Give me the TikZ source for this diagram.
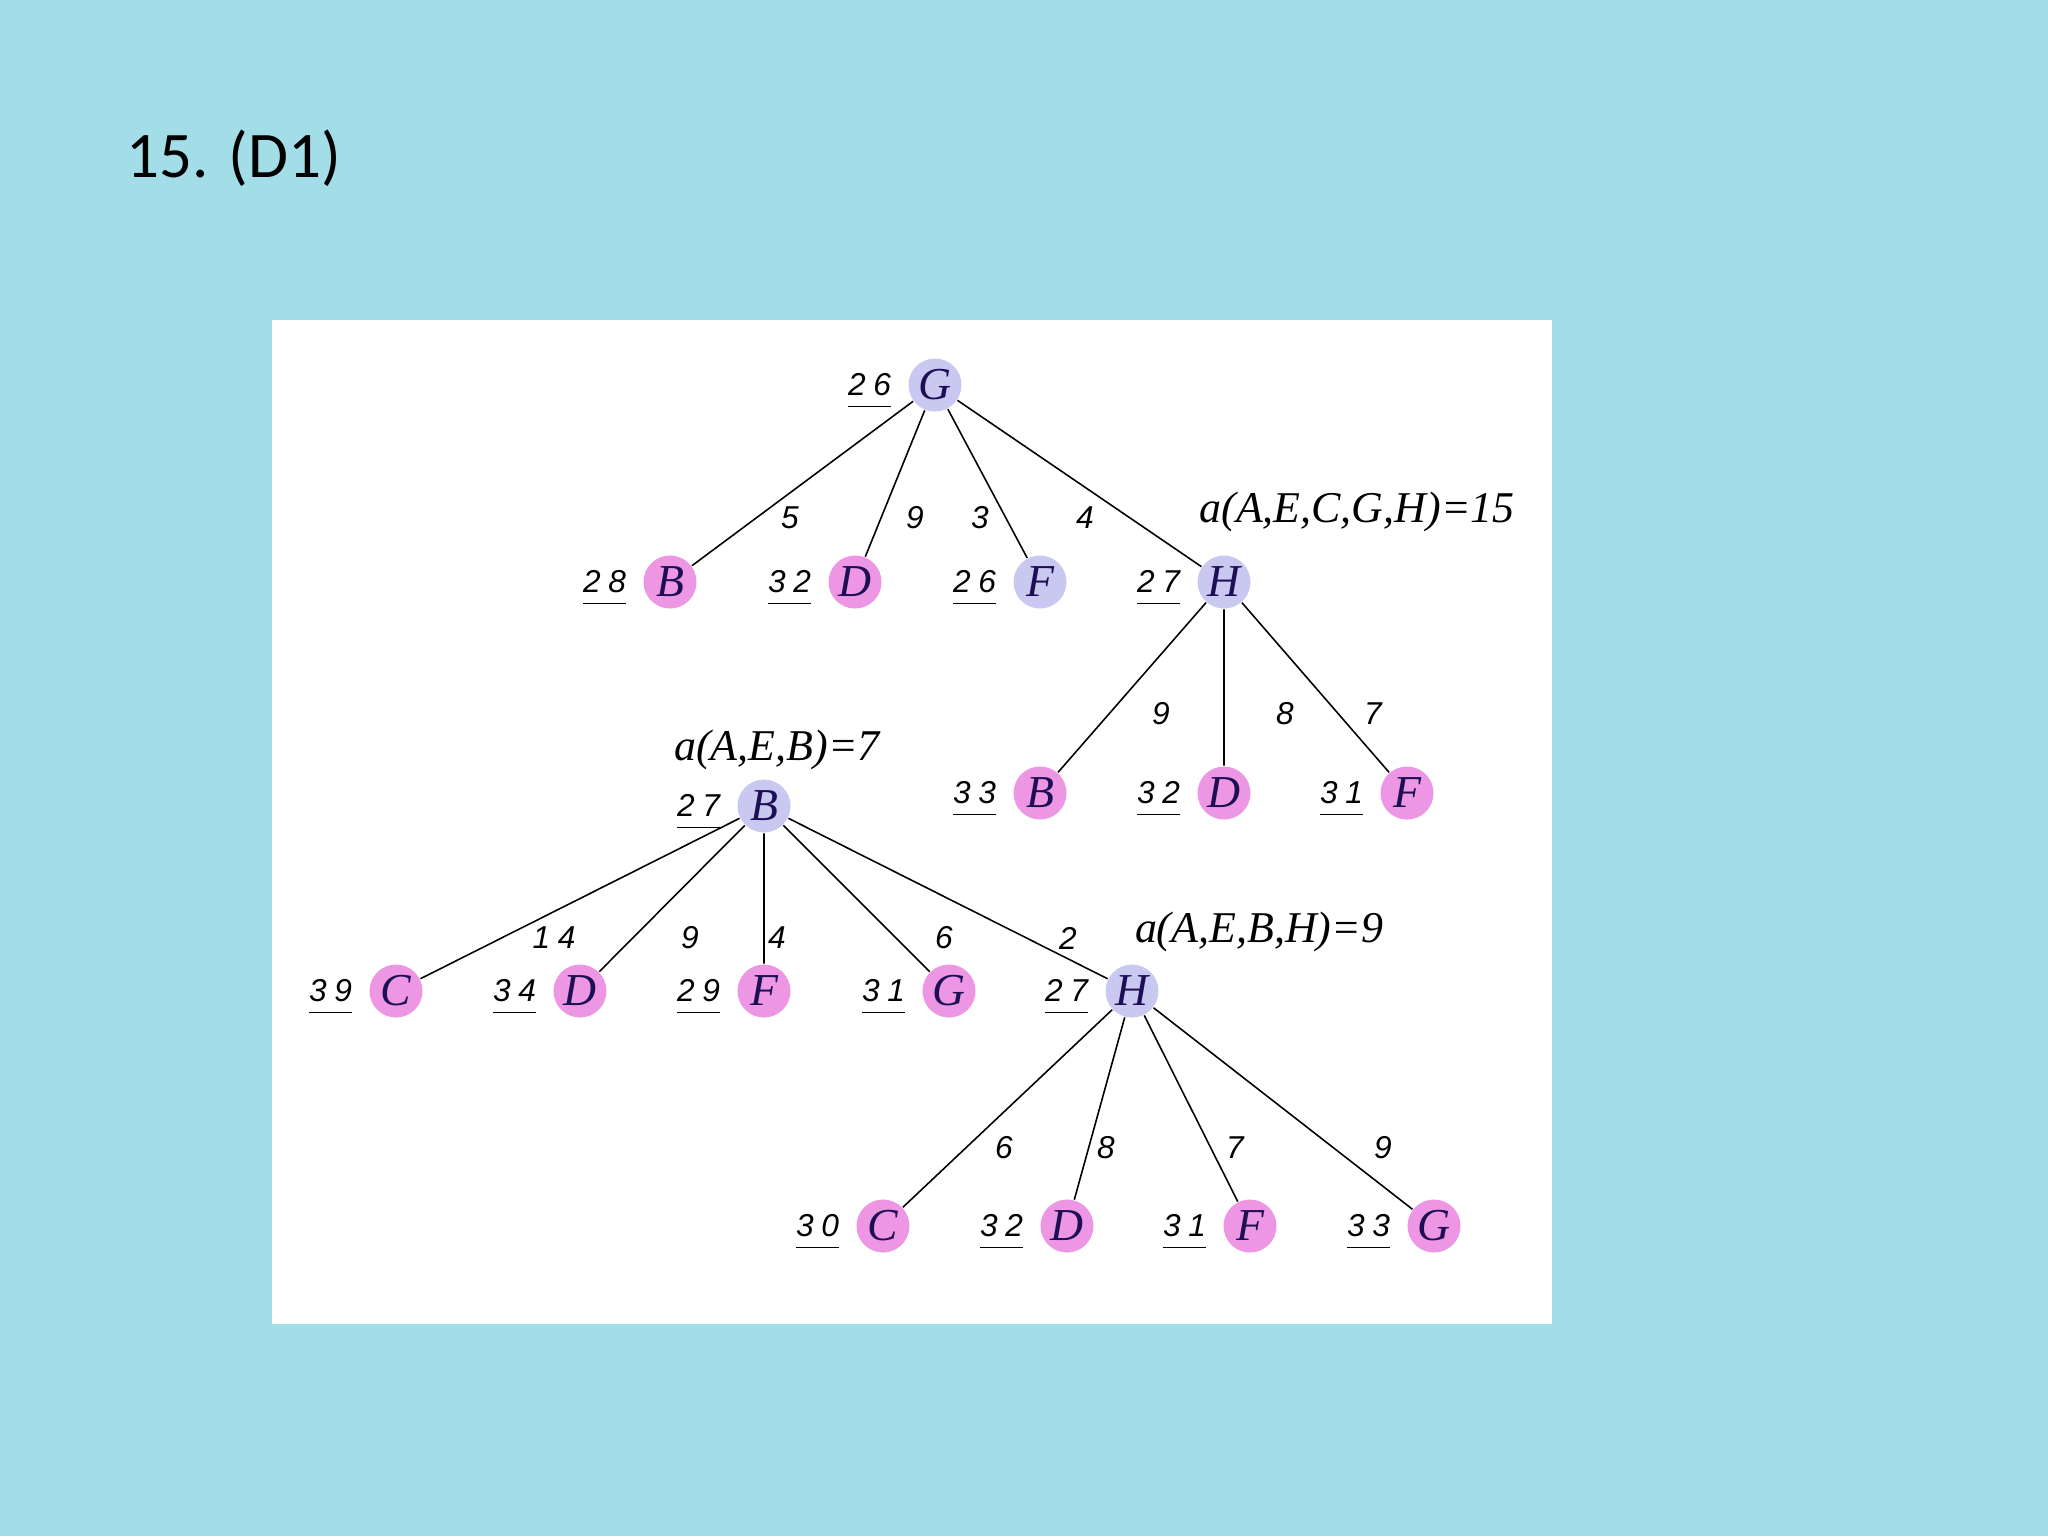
\documentclass[tikz,border=0pt]{standalone}
\usepackage{fontspec}
\setmainfont{Liberation Serif}
\newfontfamily\numfont[LetterSpace=24]{Liberation Sans}
\newfontfamily\titlefont{Carlito}
\usetikzlibrary{positioning}
\definecolor{drop}{RGB}{163,221,232}
\definecolor{lilac}{RGB}{200,200,240}
\definecolor{pinky}{RGB}{236,150,228}
\definecolor{ink}{RGB}{30,15,85}
\NewDocumentCommand{\cst}{m}{\underline{\raisebox{0pt}[\height][1.8pt]{#1}}}

\begin{document}
\begin{tikzpicture}[x=0.1mm, y=-0.1mm, line width=0.45pt,
                    expd/.style = {circle, fill=lilac, text=ink, minimum size=5.3mm, inner sep=0pt,
                                   font=\fontsize{13}{15}\selectfont\itshape},
                    leaf/.style = {expd, fill=pinky},
                    cost/.style = {inner sep=0pt, yshift=-0.6mm, font=\numfont\fontsize{9}{11}\selectfont\itshape},
                    wt/.style = {inner sep=0pt, font=\numfont\fontsize{9}{11}\selectfont\itshape},
                    note/.style = {inner sep=0pt, font=\fontsize{12.5}{15}\selectfont\itshape}]
    % background and panel
    \fill[drop] (0,0) rectangle (2048,1536);
    \fill[white] (272,320) rectangle (1552,1324);
    \node[font=\titlefont\fontsize{18.5}{22}\selectfont, anchor=base west, inner sep=0pt] (title) at (126,177) {15. (D1)};

    % first tree
    \node[expd] (g) at (935,385) {G};
    \node[leaf] (b1) at (670,582) {B};
    \node[leaf] (d1) at (855,582) {D};
    \node[expd] (f1) at (1040,582) {F};
    \node[expd] (h1) at (1224,582) {H};
    \node[leaf] (b2) at (1040,793) {B};
    \node[leaf] (d2) at (1224,793) {D};
    \node[leaf] (f2) at (1407,793) {F};

    % second tree
    \node[expd] (b) at (764,806) {B};
    \node[leaf] (c3) at (396,991) {C};
    \node[leaf] (d3) at (580,991) {D};
    \node[leaf] (f3) at (764,991) {F};
    \node[leaf] (g3) at (949,991) {G};
    \node[expd] (h3) at (1132,991) {H};
    \node[leaf] (c4) at (883,1226) {C};
    \node[leaf] (d4) at (1067,1226) {D};
    \node[leaf] (f4) at (1250,1226) {F};
    \node[leaf] (g4) at (1434,1226) {G};

    % costs
    \node[cost] (g-c) [left=1.6mm of g] {\cst{26}};
    \node[cost] (b1-c) [left=1.6mm of b1] {\cst{28}};
    \node[cost] (d1-c) [left=1.6mm of d1] {\cst{32}};
    \node[cost] (f1-c) [left=1.6mm of f1] {\cst{26}};
    \node[cost] (h1-c) [left=1.6mm of h1] {\cst{27}};
    \node[cost] (b2-c) [left=1.6mm of b2] {\cst{33}};
    \node[cost] (d2-c) [left=1.6mm of d2] {\cst{32}};
    \node[cost] (f2-c) [left=1.6mm of f2] {\cst{31}};
    \node[cost] (b-c) [left=1.6mm of b] {\cst{27}};
    \node[cost] (c3-c) [left=1.6mm of c3] {\cst{39}};
    \node[cost] (d3-c) [left=1.6mm of d3] {\cst{34}};
    \node[cost] (f3-c) [left=1.6mm of f3] {\cst{29}};
    \node[cost] (g3-c) [left=1.6mm of g3] {\cst{31}};
    \node[cost] (h3-c) [left=1.6mm of h3] {\cst{27}};
    \node[cost] (c4-c) [left=1.6mm of c4] {\cst{30}};
    \node[cost] (d4-c) [left=1.6mm of d4] {\cst{32}};
    \node[cost] (f4-c) [left=1.6mm of f4] {\cst{31}};
    \node[cost] (g4-c) [left=1.6mm of g4] {\cst{33}};

    % edges
    \draw (g) -- (b1) (g) -- (d1) (g) -- (f1) (g) -- (h1);
    \draw (h1) -- (b2) (h1) -- (d2) (h1) -- (f2);
    \draw (b) -- (c3) (b) -- (d3) (b) -- (f3) (b) -- (g3) (b) -- (h3);
    \draw (h3) -- (c4) (h3) -- (d4) (h3) -- (f4) (h3) -- (g4);

    % weights
    \node[wt] (gb1-w) at (790,518) {5};
    \node[wt] (gd1-w) at (915,518) {9};
    \node[wt] (gf1-w) at (980,518) {3};
    \node[wt] (gh1-w) at (1085,518) {4};
    \node[wt] (hb2-w) at (1161,714) {9};
    \node[wt] (hd2-w) at (1285,714) {8};
    \node[wt] (hf2-w) at (1373,714) {7};
    \node[wt] (bc3-w) at (554,938) {14};
    \node[wt] (bd3-w) at (690,938) {9};
    \node[wt] (bf3-w) at (777,938) {4};
    \node[wt] (bg3-w) at (944,938) {6};
    \node[wt] (bh3-w) at (1068,938) {2};
    \node[wt] (hc4-w) at (1004,1148) {6};
    \node[wt] (hd4-w) at (1106,1148) {8};
    \node[wt] (hf4-w) at (1235,1148) {7};
    \node[wt] (hg4-w) at (1383,1148) {9};

    % values
    \node[note] (h1-a) at (1357,512) {a(A,E,C,G,H)=15};
    \node[note] (b-a) at (777,750) {a(A,E,B)=7};
    \node[note] (h3-a) at (1259,932) {a(A,E,B,H)=9};
\end{tikzpicture}
\end{document}
